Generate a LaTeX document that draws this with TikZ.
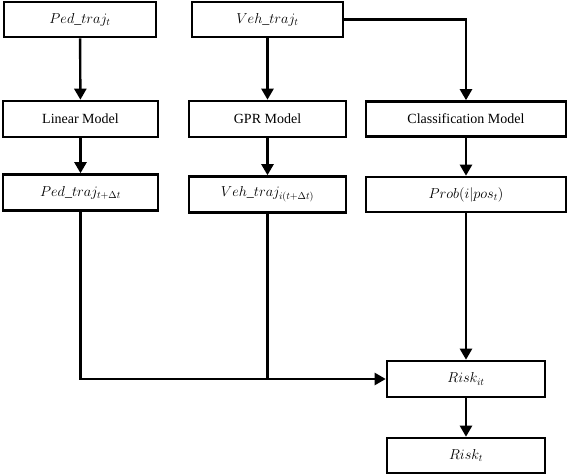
\documentclass[tikz,border=0pt]{standalone}
\usepackage{fontspec}
\setmainfont{Liberation Serif}
\usetikzlibrary{arrows.meta}
\begin{document}
\begin{tikzpicture}[x=1pt,y=-1pt,
  box/.style={draw, line width=2.6pt, minimum height=35pt, inner sep=0pt, align=center,
    font=\fontsize{14}{16}\selectfont},
  arr/.style={line width=2.4pt, line join=miter, -{Triangle[length=11pt,width=12pt]}},
  ln/.style={line width=2.4pt, line join=miter}]
\useasboundingbox (0,0) rectangle (568,476);
\node[box, minimum width=152pt] (ped) at (80,19.5) {$Ped\_traj_t$};
\node[box, minimum width=151pt] (veh) at (267.5,19.5) {$Veh\_traj_t$};
\node[box, minimum width=155pt, minimum height=36pt] (lin) at (80.5,119) {Linear Model};
\node[box, minimum width=157pt, minimum height=36pt] (gpr) at (267.5,119) {GPR Model};
\node[box, minimum width=200pt] (cls) at (466,119) {Classification Model};
\node[box, minimum width=155pt, minimum height=36pt] (pedo) at (80.5,192.5) {$Ped\_traj_{t+\Delta t}$};
\node[box, minimum width=157pt, minimum height=36pt] (veho) at (267.5,194.5) {$Veh\_traj_{i(t+\Delta t)}$};
\node[box, minimum width=200pt] (prob) at (466,194.5) {$Prob(i|pos_t)$};
\node[box, minimum width=158pt, minimum height=36pt] (riskit) at (466,379) {$Risk_{it}$};
\node[box, minimum width=158pt] (riskt) at (466,455.5) {$Risk_t$};
\coordinate (j) at (veho.south |- riskit.west);
\draw[arr] (ped) -- (lin);
\draw[arr] (lin) -- (pedo);
\draw[arr] (veh) -- (gpr);
\draw[arr] (gpr) -- (veho);
\draw[arr] (veh.east) -| (cls.north);
\draw[arr] (cls) -- (prob);
\draw[arr] (prob) -- (riskit);
\draw[arr] (riskit) -- (riskt);
\draw[arr] (pedo.south) |- (riskit.west);
\draw[ln] (veho.south) -- (j);
\end{tikzpicture}
\end{document}
